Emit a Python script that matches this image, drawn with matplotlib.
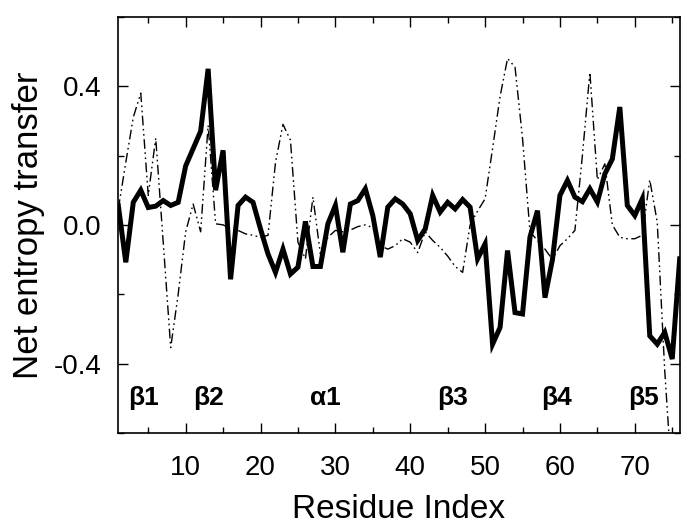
import numpy as np
import matplotlib
matplotlib.use("Agg")
import matplotlib.pyplot as plt
from matplotlib.ticker import MultipleLocator

plt.rcParams['font.family'] = ['Liberation Sans', 'DejaVu Sans']

residues = list(range(1, 77))

solid_vals = [
    0.056, -0.108, 0.065, 0.10, 0.05, 0.054, 0.07, 0.056, 0.065, 0.17,
    0.22, 0.27, 0.45, 0.10, 0.215, -0.157, 0.056, 0.08, 0.065, -0.012,
    -0.084, -0.137, -0.07, -0.142, -0.122, 0.01, -0.12, -0.12, 0.003, 0.056,
    -0.079, 0.06, 0.07, 0.104, 0.027, -0.093, 0.051, 0.075, 0.06, 0.032,
    -0.045, -0.012, 0.085, 0.037, 0.065, 0.046, 0.073, 0.051, -0.098, -0.055,
    -0.344, -0.296, -0.074, -0.253, -0.257, -0.035, 0.041, -0.21, -0.10, 0.085,
    0.128, 0.08, 0.067, 0.104, 0.066, 0.147, 0.19, 0.34, 0.056, 0.027,
    0.075, -0.32, -0.344, -0.31, -0.387, -0.098,
]

dashed_vals = [
    0.046, 0.18, 0.31, 0.38, 0.085, 0.25, -0.05, -0.354, -0.2, -0.02,
    0.06, -0.02, 0.287, 0.003, 0.0, -0.012, -0.016, -0.026, -0.03, -0.036,
    -0.03, 0.18, 0.29, 0.244, -0.05, -0.098, 0.08, -0.084, -0.036, -0.016,
    -0.02, -0.015, -0.005, 0.0, -0.008, -0.06, -0.07, -0.06, -0.04, -0.05,
    -0.08, -0.02, -0.045, -0.065, -0.09, -0.12, -0.137, 0.0, 0.04, 0.075,
    0.22, 0.37, 0.48, 0.455, 0.25, -0.02, -0.045, -0.07, -0.10, -0.06,
    -0.04, -0.016, 0.2, 0.44, 0.13, 0.176, 0.0, -0.036, -0.04, -0.04,
    -0.03, 0.13, 0.008, -0.42, -0.75, -0.70,
]

ss_labels = ['\u03b21', '\u03b22', '\u03b11', '\u03b23', '\u03b24', '\u03b25']
ss_pos = [4.3, 13.0, 28.7, 45.7, 59.6, 71.2]
ss_y = -0.50

fig = plt.figure(figsize=(7.0, 5.26), dpi=100)
ax = fig.add_axes([0.169, 0.177, 0.802, 0.791])

ax.plot(residues, dashed_vals, color='black', lw=1.0,
        linestyle=(0, (7, 2.5, 1.2, 2.5, 1.2, 2.5)))
ax.plot(residues, solid_vals, color='black', lw=3.6, solid_joinstyle='miter')

for lab, xp in zip(ss_labels, ss_pos):
    ax.text(xp, ss_y, lab, ha='center', va='center', fontsize=19,
            fontweight='bold')

ax.set_xlim(1, 76)
ax.set_ylim(-0.6, 0.6)
ax.xaxis.set_major_locator(MultipleLocator(10))
ax.xaxis.set_minor_locator(MultipleLocator(5))
ax.yaxis.set_major_locator(MultipleLocator(0.4))
ax.yaxis.set_minor_locator(MultipleLocator(0.2))
ax.set_xticks([10, 20, 30, 40, 50, 60, 70])
ax.set_yticks([-0.4, 0.0, 0.4])
ax.set_yticklabels(['-0.4', '0.0', '0.4'])

ax.tick_params(which='both', direction='in', top=True, right=True,
               labelsize=20, width=1.0)
ax.tick_params(which='major', length=7)
ax.tick_params(which='minor', length=4)
ax.tick_params(axis='x', which='major', pad=16)
ax.tick_params(axis='y', which='major', pad=12)
for s in ax.spines.values():
    s.set_linewidth(1.2)

ax.set_xlabel('Residue Index', fontsize=24, labelpad=9)
ax.set_ylabel('Net entropy transfer', fontsize=25, labelpad=6)

fig.savefig('out.png', dpi=100)
